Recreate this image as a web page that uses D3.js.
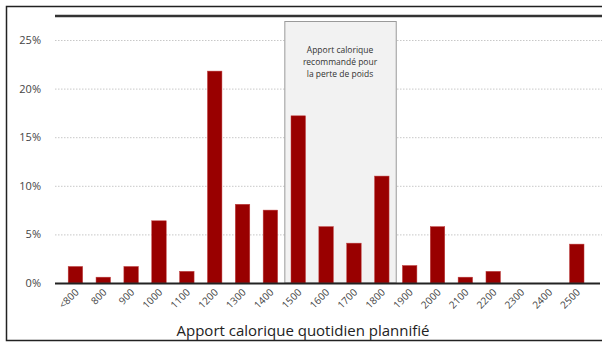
<!DOCTYPE html>
<html>
<head>
<meta charset="utf-8">
<script src="https://cdn.jsdelivr.net/npm/d3@7"></script>
<style>
  body { margin: 0; background: #fff; }
  text { font-family: "Open Sans", "Noto Sans", sans-serif; }
</style>
</head>
<body>
<div id="chart"></div>
<script>
// Data (share of participants, %)
const categories = ["<800", "800", "900", "1000", "1100", "1200", "1300", "1400", "1500", "1600",
                    "1700", "1800", "1900", "2000", "2100", "2200", "2300", "2400", "2500"];
const shares = [1.7, 0.6, 1.7, 6.4, 1.2, 21.8, 8.1, 7.5, 17.2, 5.8,
                4.1, 11.0, 1.8, 5.8, 0.6, 1.2, 0, 0, 4.0];
const yTicks = [0, 5, 10, 15, 20, 25];
const recommended = ["1500", "1800"];
const boxLines = ["Apport calorique", "recommandé pour", "la perte de poids"];
const xTitle = "Apport calorique quotidien plannifié";

const W = 602, H = 343;
const svg = d3.select("#chart").append("svg")
    .attr("width", W)
    .attr("height", H);

// Scales
const x = d3.scaleBand()
    .domain(categories)
    .range([61.5, 590.7])
    .paddingInner(0.48)
    .paddingOuter(0.24);

const y = d3.scaleLinear()
    .domain([0, 25])
    .range([283, 40]);

// Outer frame (cropped on the right)
svg.append("path")
    .attr("d", `M${W},6.5 H6.5 V340.5 H${W}`)
    .attr("fill", "none")
    .attr("stroke", "#222")
    .attr("stroke-width", 1.5);

// Thick rule near the top
svg.append("line")
    .attr("x1", 55).attr("x2", W)
    .attr("y1", 16).attr("y2", 16)
    .attr("stroke", "#333")
    .attr("stroke-width", 2.5);

// Gridlines
svg.append("g")
  .selectAll("line")
  .data(yTicks.filter(d => d > 0))
  .join("line")
    .attr("x1", 55).attr("x2", W)
    .attr("y1", d => y(d) + 0.5).attr("y2", d => y(d) + 0.5)
    .attr("stroke", "#c8c8c8")
    .attr("stroke-width", 1)
    .attr("stroke-dasharray", "1.5,1.5");

// Recommended range box
const step = x.step();
const bx0 = x(recommended[0]) + x.bandwidth() / 2 - step / 2;
const bx1 = x(recommended[1]) + x.bandwidth() / 2 + step / 2;
svg.append("rect")
    .attr("x", bx0 + 0.5)
    .attr("y", 21.5)
    .attr("width", bx1 - bx0)
    .attr("height", y(0) - 21.5)
    .attr("fill", "#f2f2f2")
    .attr("stroke", "#9a9a9a")
    .attr("stroke-width", 1);

svg.append("g")
  .selectAll("text")
  .data(boxLines)
  .join("text")
    .attr("x", (bx0 + bx1) / 2)
    .attr("y", (d, i) => 53 + i * 12)
    .attr("text-anchor", "middle")
    .attr("font-size", 8.5)
    .attr("fill", "#333")
    .text(d => d);

// Bars
svg.append("g")
  .selectAll("rect")
  .data(categories.map((c, i) => ({c, v: shares[i]})))
  .join("rect")
    .attr("x", d => x(d.c))
    .attr("y", d => y(d.v))
    .attr("width", x.bandwidth())
    .attr("height", d => y(0) - y(d.v))
    .attr("fill", "#990000")
    .attr("stroke", "#c04040")
    .attr("stroke-width", 0.5);

// Baseline
svg.append("line")
    .attr("x1", 55).attr("x2", 600)
    .attr("y1", y(0) + 0.5).attr("y2", y(0) + 0.5)
    .attr("stroke", "#222")
    .attr("stroke-width", 2);

// Y tick labels
svg.append("g")
  .selectAll("text")
  .data(yTicks)
  .join("text")
    .attr("x", 41)
    .attr("y", d => y(d) + 4)
    .attr("text-anchor", "end")
    .attr("font-size", 11)
    .attr("fill", "#444")
    .text(d => d + "%");

// X tick labels, rotated
svg.append("g")
  .selectAll("text")
  .data(categories)
  .join("text")
    .attr("transform", d => `translate(${x(d) + x.bandwidth() / 2 + 4},${y(0) + 10}) rotate(-45)`)
    .attr("text-anchor", "end")
    .attr("font-size", 10)
    .attr("fill", "#444")
    .text(d => d);

// X axis title
svg.append("text")
    .attr("x", 303)
    .attr("y", 336)
    .attr("text-anchor", "middle")
    .attr("font-size", 15)
    .attr("fill", "#222")
    .text(xTitle);
</script>
</body>
</html>
